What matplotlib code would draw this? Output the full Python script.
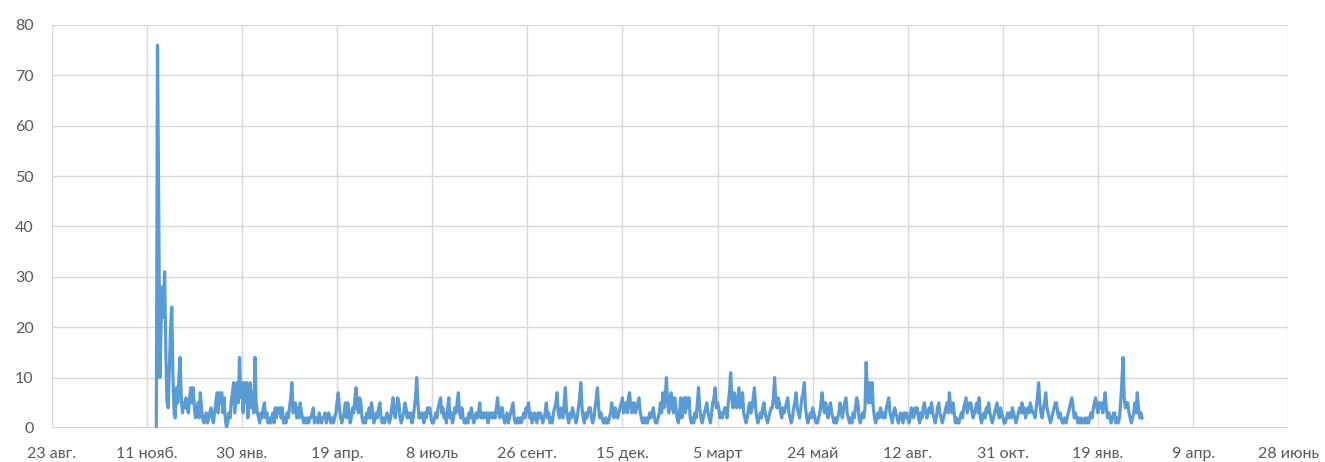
import matplotlib
matplotlib.use("Agg")
import matplotlib.pyplot as plt
import pandas as pd

# ---- data ----
start_date = "2019-11-19"
values = [
    0, 76, 45, 10, 20, 28, 22, 31, 15, 5,
    4, 12, 20, 24, 10, 3, 2, 8, 5, 10,
    14, 6, 3, 5, 4, 6, 4, 3, 6, 8,
    5, 8, 4, 2, 3, 5, 2, 7, 4, 2,
    1, 2, 3, 1, 2, 3, 4, 2, 1, 3,
    5, 7, 3, 7, 5, 7, 3, 6, 2, 0,
    1, 3, 2, 5, 7, 9, 3, 6, 9, 5,
    14, 6, 9, 3, 9, 5, 9, 2, 8, 9,
    4, 7, 3, 14, 5, 3, 2, 1, 3, 2,
    4, 5, 2, 3, 1, 2, 1, 2, 3, 1,
    4, 2, 4, 3, 4, 2, 4, 1, 2, 1,
    3, 2, 4, 6, 9, 3, 4, 5, 2, 4,
    2, 5, 3, 2, 1, 2, 1, 2, 1, 2,
    2, 3, 4, 1, 2, 2, 1, 3, 2, 1,
    2, 2, 3, 1, 2, 3, 2, 1, 2, 1,
    2, 3, 5, 7, 4, 2, 1, 2, 3, 5,
    2, 5, 3, 1, 2, 4, 3, 6, 8, 4,
    3, 6, 5, 2, 1, 2, 1, 3, 2, 4,
    2, 5, 3, 1, 2, 3, 2, 4, 5, 2,
    1, 2, 1, 2, 3, 2, 1, 2, 4, 6,
    3, 2, 4, 6, 5, 2, 1, 2, 3, 5,
    4, 2, 3, 2, 3, 1, 2, 4, 6, 10,
    5, 2, 3, 2, 3, 1, 3, 2, 4, 3,
    4, 2, 1, 1, 2, 3, 2, 4, 5, 6,
    3, 4, 2, 3, 1, 4, 6, 2, 3, 1,
    2, 4, 3, 5, 7, 3, 2, 4, 2, 1,
    1, 2, 1, 3, 2, 4, 2, 1, 2, 3,
    2, 3, 5, 2, 3, 2, 3, 2, 3, 1,
    3, 2, 3, 2, 3, 2, 4, 6, 3, 2,
    4, 4, 2, 1, 2, 3, 1, 2, 3, 4,
    5, 2, 1, 1, 2, 1, 2, 1, 2, 3,
    2, 4, 3, 5, 2, 3, 1, 2, 3, 2,
    1, 3, 2, 3, 2, 1, 2, 3, 5, 2,
    3, 1, 2, 1, 3, 4, 5, 7, 3, 2,
    4, 3, 2, 5, 8, 3, 2, 1, 3, 2,
    4, 3, 2, 1, 2, 4, 6, 9, 4, 2,
    1, 3, 2, 3, 4, 4, 2, 1, 2, 4,
    6, 8, 4, 2, 3, 2, 1, 1, 2, 1,
    1, 2, 3, 5, 3, 2, 4, 3, 2, 3,
    4, 5, 6, 3, 4, 5, 3, 6, 7, 4,
    3, 5, 5, 3, 4, 5, 6, 3, 2, 1,
    2, 1, 2, 1, 2, 3, 2, 3, 4, 2,
    1, 1, 2, 3, 5, 3, 7, 4, 6, 10,
    5, 3, 5, 7, 4, 3, 6, 4, 2, 1,
    3, 6, 2, 5, 6, 3, 6, 4, 6, 2,
    1, 2, 1, 3, 2, 5, 8, 4, 2, 1,
    2, 3, 4, 5, 3, 2, 1, 3, 5, 6,
    8, 4, 5, 4, 2, 3, 2, 3, 4, 4,
    2, 5, 7, 11, 6, 4, 7, 5, 4, 6,
    8, 4, 6, 7, 3, 2, 1, 2, 4, 5,
    3, 4, 6, 8, 4, 2, 1, 2, 3, 2,
    4, 5, 3, 2, 1, 2, 3, 4, 4, 6,
    10, 5, 4, 6, 5, 3, 2, 4, 3, 4,
    5, 6, 3, 2, 1, 2, 4, 5, 7, 4,
    3, 2, 4, 6, 7, 9, 4, 2, 1, 2,
    3, 2, 4, 3, 2, 1, 1, 2, 3, 5,
    7, 4, 3, 5, 3, 2, 4, 5, 3, 2,
    1, 2, 1, 2, 3, 5, 3, 2, 4, 5,
    6, 3, 2, 1, 2, 1, 3, 2, 4, 6,
    5, 2, 1, 2, 3, 2, 4, 13, 7, 5,
    9, 5, 9, 4, 2, 1, 2, 3, 2, 4,
    3, 2, 3, 2, 4, 5, 6, 3, 2, 1,
    3, 4, 3, 2, 1, 2, 3, 2, 1, 3,
    2, 3, 2, 1, 2, 4, 3, 2, 4, 3,
    4, 2, 1, 3, 2, 4, 5, 3, 2, 3,
    4, 3, 5, 3, 2, 1, 2, 4, 5, 3,
    2, 1, 2, 3, 4, 5, 3, 7, 4, 3,
    5, 3, 1, 2, 1, 1, 2, 3, 2, 4,
    5, 6, 3, 4, 5, 5, 3, 2, 3, 4,
    5, 3, 6, 2, 1, 2, 3, 2, 4, 3,
    5, 3, 2, 1, 2, 3, 4, 5, 3, 2,
    4, 3, 2, 1, 1, 2, 3, 2, 3, 2,
    4, 3, 2, 1, 2, 3, 4, 3, 5, 3,
    4, 2, 3, 4, 3, 5, 4, 3, 3, 2,
    4, 6, 9, 5, 3, 2, 4, 5, 7, 4,
    3, 2, 1, 2, 3, 4, 5, 5, 3, 2,
    3, 2, 1, 1, 2, 1, 2, 3, 4, 5,
    6, 4, 2, 3, 2, 1, 2, 1, 2, 1,
    1, 2, 1, 2, 1, 2, 3, 2, 4, 5,
    6, 4, 3, 5, 4, 5, 3, 5, 7, 4,
    2, 3, 2, 1, 2, 3, 3, 1, 2, 1,
    2, 5, 9, 14, 6, 4, 5, 5, 3, 2,
    1, 2, 3, 5, 3, 7, 4, 2, 3, 2,
]
tick_dates = ["2019-08-23", "2019-11-11", "2020-01-30", "2020-04-19", "2020-07-08",
              "2020-09-26", "2020-12-15", "2021-03-05", "2021-05-24", "2021-08-12",
              "2021-10-31", "2022-01-19", "2022-04-09", "2022-06-28"]
tick_labels = ["23 авг.", "11 нояб.", "30 янв.", "19 апр.", "8 июль", "26 сент.",
               "15 дек.", "5 март", "24 май", "12 авг.", "31 окт.", "19 янв.",
               "9 апр.", "28 июнь"]
y_ticks = [0, 10, 20, 30, 40, 50, 60, 70, 80]

# ---- plot ----
plt.rcParams['font.family'] = ['Lato', 'Noto Sans', 'DejaVu Sans']

dates = pd.date_range(start_date, periods=len(values), freq="D")
tdates = pd.to_datetime(tick_dates)

fig = plt.figure(figsize=(13.25, 4.62), dpi=100)
ax = fig.add_axes([0.039, 0.0736, 0.9333, 0.8723])

ax.plot(dates, values, color="#5B9BD5", lw=2.3, solid_joinstyle="round", zorder=3)

ax.set_xlim(tdates[0], tdates[-1])
ax.set_ylim(0, 80)
ax.set_xticks(tdates)
ax.set_xticklabels(tick_labels)
ax.set_yticks(y_ticks)

for s in ax.spines.values():
    s.set_visible(False)
ax.grid(True, color="#D9D9D9", lw=1.0, zorder=0)
ax.axhline(0, color="#D0D0D0", lw=1.2, zorder=1)
ax.tick_params(axis="both", length=0, colors="#595959", labelsize=11.5)
ax.tick_params(axis="x", pad=14)
ax.tick_params(axis="y", pad=13)

fig.savefig("out.png", dpi=100, facecolor="white")
